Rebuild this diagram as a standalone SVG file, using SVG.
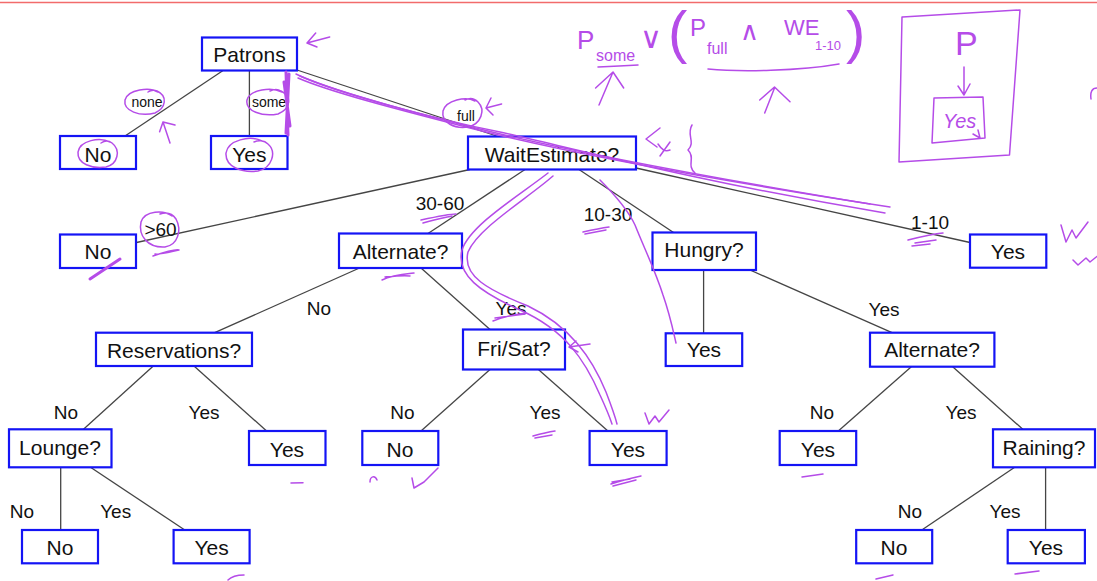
<svg xmlns="http://www.w3.org/2000/svg" width="1097" height="581" viewBox="0 0 1097 581">
<style>
.box{fill:#fff;stroke:#1414f5;stroke-width:2.2}
.nt{font-family:"Liberation Sans",Arial,sans-serif;font-size:21px;fill:#111;text-anchor:middle}
.el{font-family:"Liberation Sans",Arial,sans-serif;font-size:19px;fill:#111;text-anchor:middle}
.sl{font-family:"Liberation Sans",Arial,sans-serif;font-size:14px;fill:#111;text-anchor:middle}
.edge{stroke:#454545;stroke-width:1.3;fill:none}
.ink{fill:none;stroke:#b54ce8;stroke-width:1.5;stroke-linecap:round;stroke-linejoin:round}
.inkb{fill:none;stroke:#b54ce8;stroke-width:3;stroke-linecap:round}
.inkt{font-family:"Liberation Sans",Arial,sans-serif;fill:#b54ce8}
</style>
<rect width="1097" height="581" fill="#fff"/>
<line x1="0" y1="2.5" x2="1097" y2="2.5" stroke="#f26b6b" stroke-width="1.6"/>

<g id="connectors">
<line class="edge" x1="222.7" y1="70.7" x2="125" y2="136"/>
<line class="edge" x1="249.4" y1="70.7" x2="249.4" y2="136"/>
<line class="edge" x1="297" y1="70" x2="498" y2="136.5"/>
<line class="edge" x1="470" y1="169.5" x2="136.5" y2="242.5"/>
<line class="edge" x1="525" y1="169.5" x2="428" y2="233.5"/>
<line class="edge" x1="579" y1="169.5" x2="673.5" y2="232.5"/>
<line class="edge" x1="636" y1="168" x2="970" y2="242.5"/>
<line class="edge" x1="359.5" y1="268" x2="214.7" y2="332.7"/>
<line class="edge" x1="421" y1="268" x2="490" y2="329.5"/>
<line class="edge" x1="703.6" y1="270" x2="703.6" y2="333.3"/>
<line class="edge" x1="750" y1="270" x2="892" y2="332.7"/>
<line class="edge" x1="153.3" y1="366" x2="83.5" y2="429.3"/>
<line class="edge" x1="194" y1="366" x2="266.6" y2="431"/>
<line class="edge" x1="490" y1="369.5" x2="421" y2="431"/>
<line class="edge" x1="538.4" y1="369.5" x2="607.9" y2="431"/>
<line class="edge" x1="911.3" y1="366.7" x2="838.3" y2="431"/>
<line class="edge" x1="952.7" y1="366.7" x2="1022.8" y2="429.3"/>
<line class="edge" x1="60.7" y1="467.3" x2="60.7" y2="530"/>
<line class="edge" x1="90.5" y1="467.3" x2="184.8" y2="530"/>
<line class="edge" x1="1014.7" y1="467.3" x2="921.8" y2="530"/>
<line class="edge" x1="1045.6" y1="467.3" x2="1045.6" y2="530"/>
<g id="edge-labels">
<text class="sl" x="147" y="107">none</text>
<text class="sl" x="269" y="107">some</text>
<text class="sl" x="466" y="121">full</text>
<text class="el" x="160.5" y="235.5">&gt;60</text>
<text class="el" x="440" y="210">30-60</text>
<text class="el" x="608" y="220.5">10-30</text>
<text class="el" x="930" y="229">1-10</text>
<text class="el" x="319" y="314.5">No</text>
<text class="el" x="511" y="314.5">Yes</text>
<text class="el" x="884" y="315.5">Yes</text>
<text class="el" x="66" y="418.5">No</text>
<text class="el" x="204" y="418.5">Yes</text>
<text class="el" x="402.5" y="419">No</text>
<text class="el" x="545" y="419">Yes</text>
<text class="el" x="822" y="419">No</text>
<text class="el" x="961" y="419">Yes</text>
<text class="el" x="22" y="517.7">No</text>
<text class="el" x="115.7" y="517.7">Yes</text>
<text class="el" x="910" y="517.7">No</text>
<text class="el" x="1005" y="517.7">Yes</text>
</g>
</g>

<g id="patrons"><rect class="box" x="202" y="37.5" width="95" height="33"/><text class="nt" x="249.5" y="61.5">Patrons</text></g>
<g id="no-none"><rect class="box" x="60" y="136" width="76" height="33"/><text class="nt" x="98" y="161.5">No</text></g>
<g id="yes-some"><rect class="box" x="211" y="136" width="76.5" height="33"/><text class="nt" x="249.3" y="161.5">Yes</text></g>
<g id="waitestimate"><rect class="box" x="468" y="136.5" width="168" height="33"/><text class="nt" x="552" y="161.5">WaitEstimate?</text></g>
<g id="no-60"><rect class="box" x="60" y="234.5" width="76" height="33.5"/><text class="nt" x="98" y="259">No</text></g>
<g id="alternate1"><rect class="box" x="339" y="233.5" width="123" height="34.5"/><text class="nt" x="400.5" y="259">Alternate?</text></g>
<g id="hungry"><rect class="box" x="652.5" y="232.5" width="103.5" height="37.5"/><text class="nt" x="704" y="256.7">Hungry?</text></g>
<g id="yes-1-10"><rect class="box" x="970" y="234.5" width="76.3" height="33.2"/><text class="nt" x="1008" y="258.5">Yes</text></g>
<g id="reservations"><rect class="box" x="96" y="332.7" width="156" height="33.3"/><text class="nt" x="174" y="357.5">Reservations?</text></g>
<g id="frisat"><rect class="box" x="463" y="329.5" width="102" height="40"/><text class="nt" x="514" y="355.5">Fri/Sat?</text></g>
<g id="yes-hungry"><rect class="box" x="665.7" y="333.3" width="76.5" height="32.7"/><text class="nt" x="704" y="356.7">Yes</text></g>
<g id="alternate2"><rect class="box" x="870" y="332.7" width="124.4" height="34"/><text class="nt" x="932" y="356.7">Alternate?</text></g>
<g id="lounge"><rect class="box" x="9" y="429.3" width="102.5" height="38"/><text class="nt" x="60" y="455">Lounge?</text></g>
<g id="yes-res"><rect class="box" x="249" y="431" width="76.5" height="34"/><text class="nt" x="287" y="456.7">Yes</text></g>
<g id="no-frisat"><rect class="box" x="362.3" y="431" width="76" height="34"/><text class="nt" x="400" y="456.7">No</text></g>
<g id="yes-frisat"><rect class="box" x="589.6" y="431" width="77" height="34"/><text class="nt" x="628" y="456.7">Yes</text></g>
<g id="yes-alt2"><rect class="box" x="779.7" y="431" width="76.5" height="34"/><text class="nt" x="818" y="456.7">Yes</text></g>
<g id="raining"><rect class="box" x="993" y="429.3" width="102" height="38"/><text class="nt" x="1044" y="455">Raining?</text></g>
<g id="no-lounge"><rect class="box" x="22" y="530" width="76" height="33.3"/><text class="nt" x="60" y="555">No</text></g>
<g id="yes-lounge"><rect class="box" x="173.6" y="530" width="76" height="33.3"/><text class="nt" x="211.6" y="555">Yes</text></g>
<g id="no-raining"><rect class="box" x="856.2" y="530" width="76" height="33.3"/><text class="nt" x="894" y="555">No</text></g>
<g id="yes-raining"><rect class="box" x="1007.7" y="530" width="77.2" height="33.3"/><text class="nt" x="1046" y="555">Yes</text></g>

<g id="annotations">
<path class="ink" d="M329.7,37 L307,43 M315.7,33 L307,43 L317,47"/>
<path class="ink" d="M158,92 C150,87 128,89 125,100 C123,111 140,117 155,113 C166,108 168,96 157,91 C154,90 151,90 148,92"/>
<path class="ink" d="M170,143 L163,122 M159.6,131.7 L163,122 L175,125"/>
<path class="ink" d="M282,92 C272,87 250,89 247,100 C245,111 262,117 278,114 C290,109 293,97 281,91 C278,89 274,89 270,91"/>
<path class="inkb" d="M286,72 L288,135 M289,74 L286,133 M284,82 L290,126"/>
<path class="ink" d="M110,142 C100,137 80,140 78,152 C77,164 92,169 106,167 C118,164 121,150 112,143 C108,140 104,141 101,143"/>
<path class="ink" d="M262,141 C250,135 228,140 226,153 C225,167 242,173 258,171 C272,168 277,152 268,144 C264,140 258,140 254,142"/>
<path class="ink" d="M475,101 C466,96 446,100 443,111 C441,123 455,129 468,127 C481,124 486,110 478,102 C474,98 469,98 465,100"/>
<path class="ink" d="M501.6,104 L486,108 M491,98 L486,108 L493,115"/>
<path class="ink" d="M172,216 C164,210 145,210 141,222 C138,236 148,248 165,247 C178,245 182,230 176,219 C172,213 166,212 160,214"/>
<path class="ink" d="M298,78 C330,92 400,110 470,128 C540,146 650,170 890,207"/>
<path class="ink" d="M300,76 C340,93 430,118 500,132 C580,150 700,182 885,213"/>
<path class="ink" d="M296,74 C320,86 380,104 460,124 C560,150 700,176 870,204"/>
<text class="inkt" x="577" y="49" font-size="26">P</text>
<text class="inkt" x="596" y="61" font-size="16">some</text>
<text class="inkt" x="640" y="48" font-size="30">∨</text>
<text class="inkt" x="668" y="52" font-size="58">(</text>
<text class="inkt" x="690" y="36" font-size="24">P</text>
<text class="inkt" x="707" y="54" font-size="16">full</text>
<text class="inkt" x="740" y="40" font-size="26">∧</text>
<text class="inkt" x="784" y="35" font-size="22">WE</text>
<text class="inkt" x="815" y="50" font-size="13">1-10</text>
<text class="inkt" x="846" y="52" font-size="58">)</text>
<path class="ink" d="M598,67 Q620,66 638,65"/>
<path class="ink" d="M599,105 L613,72 M595.6,88 L613,72 L623.7,88"/>
<path class="ink" d="M708,69 C740,72 800,71 839,64"/>
<path class="ink" d="M764.7,113 L774.5,88 M759.7,100 L774.5,87 L790,101.7"/>
<path class="ink" d="M902.5,17 L1020,10 L1009.5,155 L899,162 L902,17"/>
<text class="inkt" x="955" y="55" font-size="34">P</text>
<path class="ink" d="M964,67 L964,95 M958,86 L964,95 L970,84"/>
<path class="ink" d="M934,98 L983,97 L985,138 L932,143 L934,98"/>
<text class="inkt" x="943" y="128" font-size="20" font-style="italic">Yes</text>
<path class="ink" d="M973,134 L980,138 L978,130"/>
<path class="ink" d="M1097,88 C1092,88 1090,92 1091,99"/>
<path class="ink" d="M660,128 L646,139 L657,147 M658,144 C662,150 665,152 670,150 M670,142 L660,156 M692,125 C686,135 696,142 688,150 C696,158 686,165 695,173"/>
<path class="ink" d="M548,173 C520,195 470,225 462,250 C456,275 480,292 520,310 C565,330 585,360 600,395 C606,408 610,418 612,424"/>
<path class="ink" d="M553,176 C528,198 478,228 468,252 C462,276 488,290 528,306 C570,326 592,358 606,392 C611,405 615,416 617,424"/>
<path class="ink" d="M590,344 L569,347 M576,341 L569,347 L578,352"/>
<path class="ink" d="M600,180 C615,195 628,210 635,225 C645,250 655,270 663,295 C670,315 673,330 676,343"/>
<path class="ink" d="M153,256 C165,252 175,249 179,250 C170,252 160,255 155,254"/>
<path class="inkb" d="M90,279 L120,259"/>
<path class="ink" d="M421,220 C435,217 450,214 456,214 M423,223 C437,219 448,217 452,216"/>
<path class="ink" d="M382,280 C392,275 405,274 414,273 M385,277 C395,276 404,275 410,276"/>
<path class="ink" d="M493,321 C505,316 518,314 526,313 M495,318 L525,314"/>
<path class="ink" d="M583,232 C592,230 602,228 609,227 M585,234 L606,230"/>
<path class="ink" d="M908,240 C920,237 932,234 943,233 M912,246 L930,244 M915,243 L936,240"/>
<path class="ink" d="M1061,225 L1066,242 L1072,230 L1076,238 L1088,222"/>
<path class="ink" d="M1073,260 L1078,265 L1086,258 L1090,262 L1100,254"/>
<path class="ink" d="M291,483 L303,482.7"/>
<path class="ink" d="M370,482 C370,476 375,475 377,480"/>
<path class="ink" d="M412,478 L414,488 L424,482 L438,468"/>
<path class="ink" d="M228,580 C232,576 238,575 244,575"/>
<path class="ink" d="M611,484 C620,481 632,478 641,476 M613,486 L636,480 M612,482 L630,479"/>
<path class="ink" d="M645,413 L649,424 L655,416 L659,422 L669,410"/>
<path class="ink" d="M802,477 L823,474"/>
<path class="ink" d="M876,579 L893,575"/>
<path class="ink" d="M1015,574 L1039,571"/>
<path class="ink" d="M533,436 C540,434 548,432 555,431 M535,438 L552,435"/>
</g>
</svg>
